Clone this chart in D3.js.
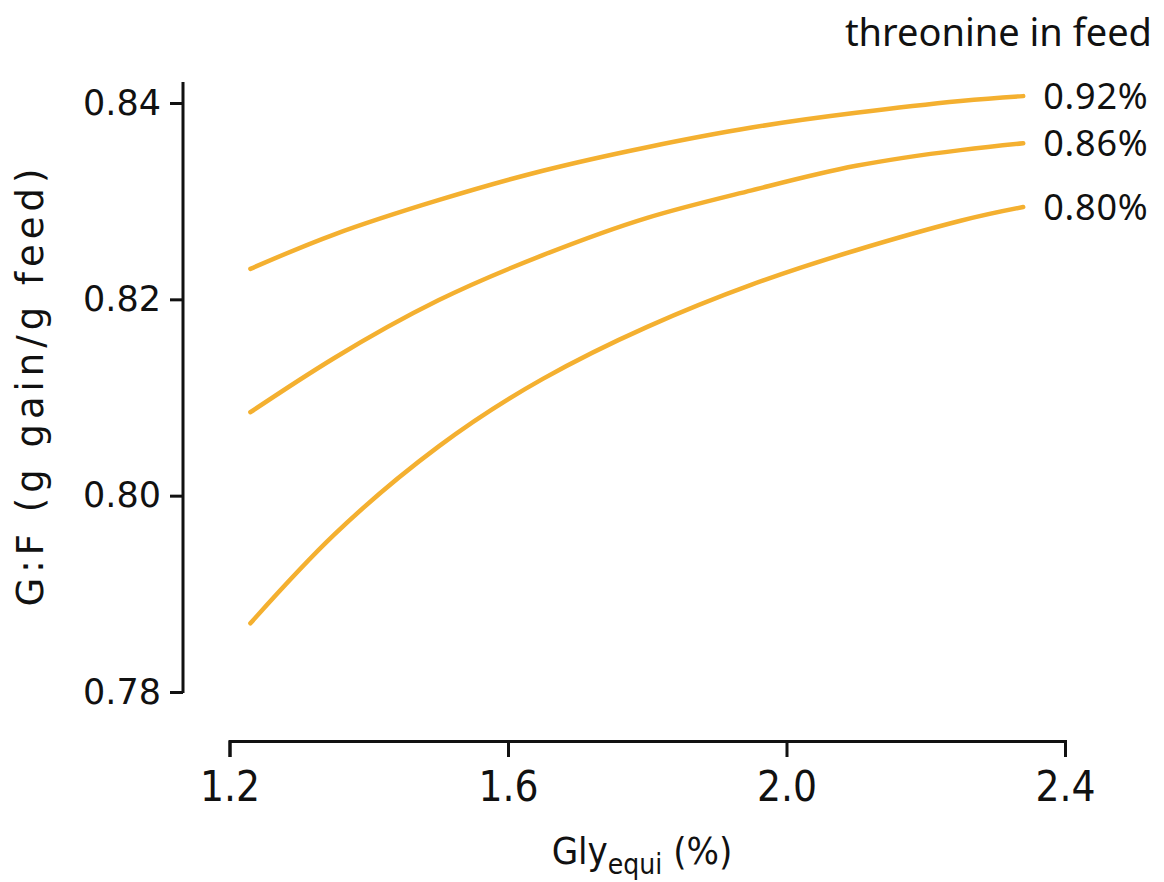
<!DOCTYPE html>
<html>
<head>
<meta charset="utf-8">
<script src="https://cdn.jsdelivr.net/npm/d3@7"></script>
<style>
  html, body { margin: 0; padding: 0; background: #fff; }
  svg { display: block; }
</style>
</head>
<body>
<svg id="chart" width="1164" height="882"></svg>
<script>
// ---- data ----
const glyValues = [1.23, 1.35, 1.50, 1.65, 1.80, 1.95, 2.10, 2.25, 2.34];
const thr092 = [0.8231, 0.8266, 0.8301, 0.8331, 0.8355, 0.8375, 0.8390, 0.8402, 0.8407];
const thr086 = [0.8085, 0.8140, 0.8199, 0.8245, 0.8283, 0.8311, 0.8336, 0.8352, 0.8359];
const thr080 = [0.7870, 0.7960, 0.8050, 0.8119, 0.8172, 0.8215, 0.8250, 0.8280, 0.8294];
const seriesLabels = ["0.92%", "0.86%", "0.80%"];
const xTicks = [1.2, 1.6, 2.0, 2.4];
const yTicks = [0.78, 0.80, 0.82, 0.84];
const xTitle = "Gly";
const xTitleSub = "equi";
const xTitleTail = " (%)";
const yTitle = "G:F (g gain/g feed)";
const legendTitle = "threonine in feed";

const series = [thr092, thr086, thr080].map((vals, i) => ({
  label: seriesLabels[i],
  points: glyValues.map((g, j) => ({ x: g, y: vals[j] }))
}));

const svg = d3.select("#chart");
const x = d3.scaleLinear().domain([1.2, 2.4]).range([229.5, 1065]);
const y = d3.scaleLinear().domain([0.78, 0.84]).range([692, 103]);
const lineColor = "#f4b030";

// x axis
const xAxis = svg.append("g")
  .attr("transform", "translate(0,741)")
  .call(d3.axisBottom(x).tickValues(xTicks).tickFormat(d3.format(".1f")).tickSize(16).tickSizeOuter(16).tickPadding(14));
xAxis.select(".domain").attr("stroke", "#111").attr("stroke-width", 3);
xAxis.selectAll(".tick line").attr("stroke", "#111").attr("stroke-width", 3);
xAxis.selectAll(".tick text")
  .attr("fill", "#111")
  .style("font-family", "'DejaVu Sans Condensed', 'Liberation Sans Narrow', sans-serif")
  .style("font-size", "42px");

// y axis
const yAxis = svg.append("g")
  .attr("transform", "translate(183,0)")
  .call(d3.axisLeft(y).tickValues(yTicks).tickFormat(d3.format(".2f")).tickSize(13).tickSizeOuter(0).tickPadding(9));
yAxis.select(".domain").remove();
yAxis.append("line")
  .attr("x1", 0).attr("x2", 0)
  .attr("y1", y.range()[1] - 21).attr("y2", y.range()[0] + 1)
  .attr("stroke", "#111").attr("stroke-width", 3);
yAxis.selectAll(".tick line").attr("stroke", "#111").attr("stroke-width", 3);
yAxis.selectAll(".tick text")
  .attr("fill", "#111")
  .style("font-family", "'DejaVu Sans', Verdana, sans-serif")
  .style("font-size", "35px");

// lines
const line = d3.line().x(d => x(d.x)).y(d => y(d.y)).curve(d3.curveNatural);
svg.append("g").selectAll("path")
  .data(series)
  .join("path")
  .attr("d", d => line(d.points))
  .attr("fill", "none")
  .attr("stroke", lineColor)
  .attr("stroke-width", 4.5)
  .attr("stroke-linecap", "round");

// series labels
svg.append("g").selectAll("text")
  .data(series)
  .join("text")
  .attr("x", d => x(d.points[d.points.length - 1].x) + 20)
  .attr("y", d => y(d.points[d.points.length - 1].y))
  .attr("dy", "0.36em")
  .attr("fill", "#111")
  .style("font-family", "'Noto Sans', 'Open Sans', sans-serif")
  .style("font-size", "36px")
  .style("letter-spacing", "0.8px")
  .text(d => d.label);

// legend title
svg.append("text")
  .attr("x", 1152).attr("y", 46)
  .attr("text-anchor", "end")
  .attr("fill", "#111")
  .style("font-family", "'Noto Sans', 'Open Sans', sans-serif")
  .style("font-size", "38px")
  .text(legendTitle);

// x title
const xt = svg.append("text")
  .attr("x", 642).attr("y", 864)
  .attr("text-anchor", "middle")
  .attr("fill", "#111")
  .style("font-family", "'DejaVu Sans Condensed', 'Liberation Sans Narrow', sans-serif")
  .style("font-size", "38px");
xt.append("tspan").text(xTitle);
xt.append("tspan").attr("dy", 10).style("font-size", "28px").text(xTitleSub);
xt.append("tspan").attr("dy", -10).text(xTitleTail);

// y title
svg.append("text")
  .attr("transform", "translate(43,385) rotate(-90)")
  .attr("text-anchor", "middle")
  .attr("fill", "#111")
  .style("font-family", "'DejaVu Sans', Verdana, sans-serif")
  .style("font-size", "37px")
  .style("letter-spacing", "5px")
  .text(yTitle);
</script>
</body>
</html>
